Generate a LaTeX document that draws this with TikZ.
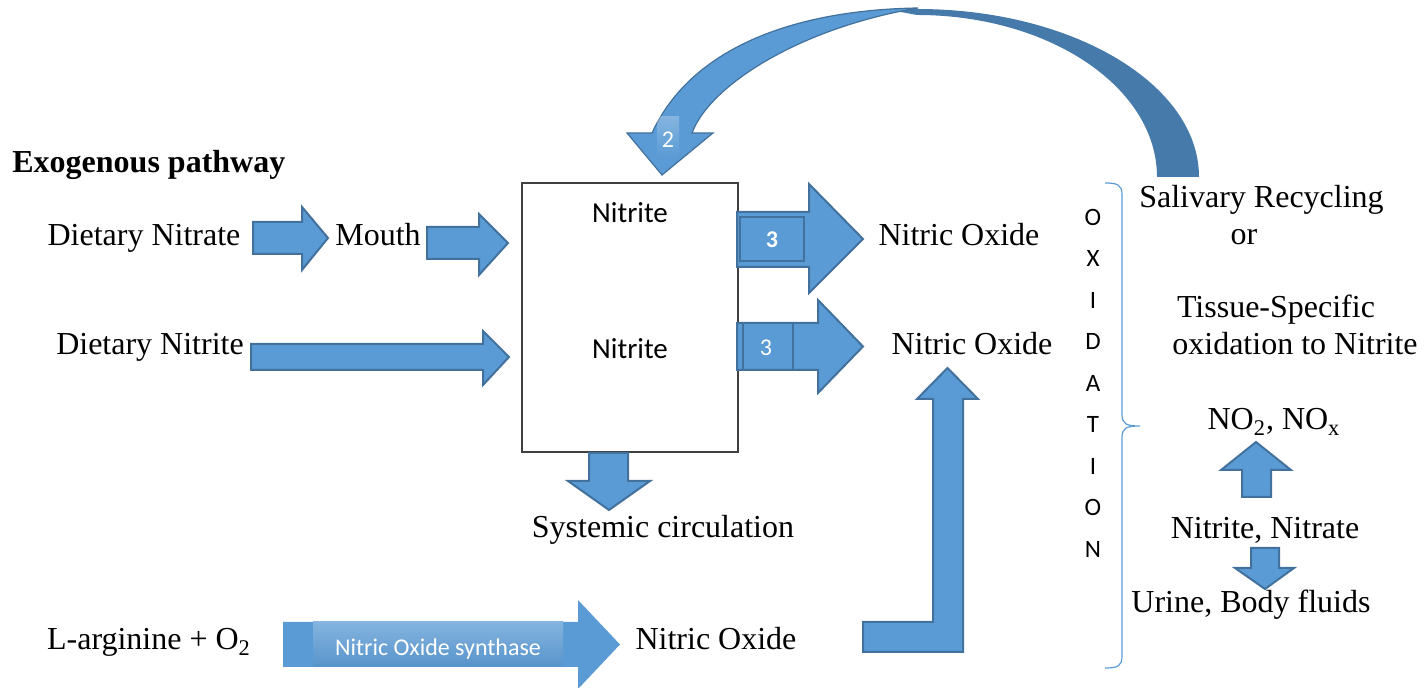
\documentclass[tikz,border=0pt]{standalone}
\usepackage{fontspec}
\setmainfont{Liberation Serif}
\newfontfamily\calibri{Carlito}

\definecolor{arrowblue}{RGB}{91,155,213}
\definecolor{arrowedge}{RGB}{65,113,156}
\definecolor{curvedark}{RGB}{70,122,171}

\tikzset{
  txt/.style={font=\fontsize{16}{19}\selectfont, inner sep=0pt, anchor=base},
  sans/.style={font=\calibri\fontsize{14.5}{17}\selectfont, inner sep=0pt, anchor=base},
  letter/.style={font=\calibri\fontsize{12.5}{15}\selectfont, inner sep=0pt},
  blockarrow/.style={fill=arrowblue, draw=arrowedge, line width=1pt},
  numlabel/.style={text=white, font=\calibri\fontsize{12}{14}\selectfont, inner sep=0pt}
}

\begin{document}
\begin{tikzpicture}[x=0.5pt,y=-0.5pt]
    \useasboundingbox (0,0) rectangle (1425,688);

    % salivary recycling, curved arrow back into the pool
    \fill[curvedark] (1199,177) arc[start angle=0, end angle=-90, x radius=282, y radius=168]
        -- (890,10) -- (917,15) arc[start angle=-90, end angle=0, x radius=240, y radius=162] -- cycle;
    \draw[blockarrow, line width=0.6pt] (918,8) .. controls (790,10) and (690,50) .. (652,133)
        -- (627,133) -- (662,175) -- (713,133) -- (692,133)
        .. controls (710,85) and (800,28) .. (918,8) -- cycle;
    \shade[top color=white, bottom color=arrowblue, opacity=0.25] (657,117) rectangle (679,157);
    \node[numlabel] (two) at (668,140) {2};

    % exogenous pathway
    \node[txt, anchor=base west, font=\bfseries\fontsize{16}{19}\selectfont] (exo) at (12,173) {Exogenous pathway};
    \node[txt] (nitrate) at (144,246) {Dietary Nitrate};
    \node[txt] (mouth) at (378,246) {Mouth};
    \node[txt] (dnitrite) at (150,355) {Dietary Nitrite};

    \draw[blockarrow] (253,222) -- (302,222) -- (302,207) -- (328,238) -- (302,270) -- (302,254) -- (253,254) -- cycle;
    \draw[blockarrow] (427,227) -- (479,227) -- (479,214) -- (508,243) -- (479,275) -- (479,259) -- (427,259) -- cycle;
    \draw[blockarrow] (251,344) -- (483,344) -- (483,331) -- (509,357) -- (483,385) -- (483,370) -- (251,370) -- cycle;

    % nitrite pool
    \node[draw=black!75, line width=0.8pt, minimum width=108pt, minimum height=134.5pt, inner sep=0pt] (pool) at (630,317.5) {};
    \node[sans] (nitrite1) at (630,223) {Nitrite};
    \node[sans] (nitrite2) at (630,359) {Nitrite};

    % reduction to nitric oxide
    \draw[blockarrow] (737,212) -- (809,212) -- (809,184) -- (863,239) -- (809,293) -- (809,267) -- (737,267) -- cycle;
    \draw[draw=arrowedge, line width=1pt] (740,217) rectangle (804,261);
    \node[numlabel, font=\calibri\bfseries\fontsize{12}{14}\selectfont] (three1) at (772,240) {3};
    \draw[blockarrow] (737,323) -- (818,323) -- (818,300) -- (863,346.5) -- (818,393) -- (818,370) -- (737,370) -- cycle;
    \draw[draw=arrowedge, line width=1pt] (743,323) rectangle (793,370);
    \node[numlabel] (three2) at (766,348) {3};

    \node[txt] (no1) at (959,246) {Nitric Oxide};
    \node[txt] (no2) at (972,355) {Nitric Oxide};

    % systemic circulation
    \draw[blockarrow] (589,453) -- (628,453) -- (628,481) -- (650,481) -- (609,510) -- (568,481) -- (589,481) -- cycle;
    \node[txt] (systemic) at (663,538) {Systemic circulation};

    % endogenous pathway
    \node[txt] (arginine) at (149,650) {L-arginine + O\textsubscript{2}};
    \fill[arrowblue] (283,622) -- (578,622) -- (578,600) -- (620,644.5) -- (578,689) -- (578,667) -- (283,667) -- cycle;
    \shade[top color=arrowblue!75!white, bottom color=arrowblue!95!black] (313,622) rectangle (563,667);
    \node[numlabel] (nos) at (438,649) {Nitric Oxide synthase};
    \node[txt] (no3) at (716,650) {Nitric Oxide};
    \draw[blockarrow] (863,622) -- (933,622) -- (933,399) -- (917,399) -- (947.5,368) -- (978,399) -- (963,399) -- (963,652) -- (863,652) -- cycle;

    % oxidation
    \foreach \l [count=\i] in {O,X,I,D,A,T,I,O,N}
        \node[letter] (ox\i) at (1093,{217+(\i-1)*41.5}) {\l};
    \draw[arrowblue, line width=0.6pt] (1105,183) .. controls (1118,183) and (1122,185) .. (1122,195)
        -- (1122,414) .. controls (1122,424) and (1126,426) .. (1140,426)
        .. controls (1126,426) and (1122,428) .. (1122,438)
        -- (1122,656) .. controls (1122,666) and (1118,668) .. (1105,668);

    \node[txt] (salivary) at (1261.5,208) {Salivary Recycling};
    \node[txt] (or) at (1244,245) {or};
    \node[txt] (tissue) at (1276,318) {Tissue-Specific};
    \node[txt] (oxid) at (1295,355) {oxidation to Nitrite};
    \node[txt] (nox) at (1274,430) {NO\textsubscript{2}, NO\textsubscript{x}};
    \node[txt] (nn) at (1265,539) {Nitrite, Nitrate};
    \node[txt] (urine) at (1251,613) {Urine, Body fluids};
    \draw[blockarrow] (1242,497) -- (1242,470) -- (1221,470) -- (1256,442) -- (1291,470) -- (1271,470) -- (1271,497) -- cycle;
    \draw[blockarrow] (1251,548) -- (1279,548) -- (1279,568) -- (1294,568) -- (1265,589) -- (1235,568) -- (1251,568) -- cycle;
\end{tikzpicture}
\end{document}
